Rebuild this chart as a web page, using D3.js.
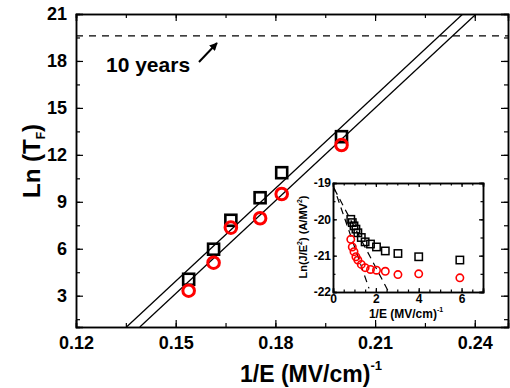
<!DOCTYPE html>
<meta charset="utf-8">
<style>
body { margin: 0; background: #fff; }
text { font-family: "Liberation Sans", Arial, sans-serif; font-weight: bold; fill: #000; }
.domain { stroke: #000; stroke-width: 1.5px; }
.tick line { stroke: #000; stroke-width: 1.2px; }
</style>
<body>
<svg id="chart" width="510" height="388"></svg>
<script src="https://d3js.org/d3.v7.min.js"></script>
<script>

// main plot: lifetime vs 1/E
const invE = [0.1539, 0.1614, 0.1666, 0.1754, 0.1819, 0.1999]
const lnTsq = [4.05, 5.97, 7.82, 9.26, 10.86, 13.16]
const lnTci = [3.32, 5.11, 7.35, 7.95, 9.50, 12.63]
const fitA = [[0.1352, 1], [0.2364, 21]]
const fitB = [[0.1392, 1], [0.2404, 21]]
const tenYears = 19.6
const xTicks = [0.12, 0.15, 0.18, 0.21, 0.24]
const yTicks = [3, 6, 9, 12, 15, 18, 21]

// inset: Ln(J/E^2) vs 1/E
const inX = [0.83, 0.90, 0.98, 1.07, 1.16, 1.32, 1.50, 1.75, 2.03, 2.44, 3.03, 4.00, 5.92]
const inSq = [-20.00, -20.09, -20.18, -20.27, -20.37, -20.50, -20.62, -20.68, -20.76, -20.87, -20.94, -21.03, -21.12]
const inCi = [-20.55, -20.76, -20.89, -21.03, -21.12, -21.24, -21.33, -21.38, -21.40, -21.43, -21.52, -21.50, -21.61]
const inFitA = [[0, -19.05], [1.68, -21.9]]
const inFitB = [[0.05, -19.15], [2.6, -22]]
const inXTicks = [0, 2, 4, 6]
const inYTicks = [-22, -21, -20, -19]

const svg = d3.select("#chart")
svg.append("rect").attr("width", 510).attr("height", 388).attr("fill", "#fff")
const defs = svg.append("defs")

const x = d3.scaleLinear().domain([0.12, 0.25]).range([76, 508])
const y = d3.scaleLinear().domain([1, 21]).range([327, 14])

const none = () => ""

function axes(g, xs, ys, xt, yt, mx, my, big, small, pad, fs, fx, fy) {
  const [x0, x1] = xs.range(), [y0, y1] = ys.range()
  const add = (ax, tr) => g.append("g").attr("transform", tr).call(ax)
  add(d3.axisBottom(xs).tickValues(mx).tickSize(-small).tickFormat(none), `translate(0,${y0})`)
  add(d3.axisTop(xs).tickValues(mx).tickSize(-small).tickFormat(none), `translate(0,${y1})`)
  add(d3.axisLeft(ys).tickValues(my).tickSize(-small).tickFormat(none), `translate(${x0},0)`)
  add(d3.axisRight(ys).tickValues(my).tickSize(-small).tickFormat(none), `translate(${x1},0)`)
  add(d3.axisBottom(xs).tickValues(xt).tickSize(-big).tickPadding(pad).tickFormat(fx), `translate(0,${y0})`)
  add(d3.axisTop(xs).tickValues(xt).tickSize(-big).tickFormat(none), `translate(0,${y1})`)
  add(d3.axisLeft(ys).tickValues(yt).tickSize(-big).tickPadding(pad).tickFormat(fy), `translate(${x0},0)`)
  add(d3.axisRight(ys).tickValues(yt).tickSize(-big).tickFormat(none), `translate(${x1},0)`)
  g.selectAll(".tick text").attr("font-size", fs)
    .attr("font-family", "'Liberation Sans', Arial, sans-serif").attr("font-weight", "bold")
}

defs.append("clipPath").attr("id", "clip")
  .append("rect").attr("x", 76).attr("y", 14).attr("width", 432).attr("height", 313)

const main = svg.append("g")
axes(main, x, y, xTicks, yTicks, d3.range(0.12, 0.2501, 0.015), d3.range(1.5, 21, 1.5),
  7, 4, 9, 18, d3.format(".2f"), d => String(d))

// 10 years line
main.append("line")
  .attr("x1", x(0.12)).attr("x2", x(0.25))
  .attr("y1", y(tenYears)).attr("y2", y(tenYears))
  .attr("stroke", "#000").attr("stroke-width", 1.2).attr("stroke-dasharray", "7,6")

main.append("text").attr("x", 106).attr("y", 72).attr("font-size", 21).text("10 years")

defs.append("marker").attr("id", "arr")
  .attr("viewBox", "0 0 10 10").attr("refX", 9).attr("refY", 5)
  .attr("markerWidth", 4).attr("markerHeight", 4).attr("orient", "auto")
  .append("path").attr("d", "M0,0L10,5L0,10z").attr("fill", "#000")
main.append("line").attr("x1", 199).attr("y1", 62).attr("x2", 217).attr("y2", 43)
  .attr("stroke", "#000").attr("stroke-width", 2).attr("marker-end", "url(#arr)")

const line = d3.line().x(d => x(d[0])).y(d => y(d[1]))
main.append("g").attr("clip-path", "url(#clip)").selectAll("path")
  .data([fitA, fitB]).join("path")
  .attr("d", line).attr("fill", "none").attr("stroke", "#000").attr("stroke-width", 1.3)

main.selectAll(".sq").data(invE).join("rect")
  .attr("x", d => x(d) - 5.5).attr("y", (d, i) => y(lnTsq[i]) - 5.5)
  .attr("width", 11).attr("height", 11)
  .attr("fill", "none").attr("stroke", "#000").attr("stroke-width", 2.6)

main.selectAll(".ci").data(invE).join("circle")
  .attr("cx", d => x(d)).attr("cy", (d, i) => y(lnTci[i])).attr("r", 5.8)
  .attr("fill", "none").attr("stroke", "#f00").attr("stroke-width", 3)

// axis titles
const xt = main.append("text").attr("x", 240).attr("y", 382).attr("font-size", 23)
xt.append("tspan").text("1/E (MV/cm)")
xt.append("tspan").attr("dy", -12).attr("font-size", 13).text("-1")

const yt = main.append("text").attr("transform", "translate(40,198) rotate(-90)").attr("font-size", 24)
yt.append("tspan").text("Ln (T")
yt.append("tspan").attr("dy", 5).attr("font-size", 12).text("F")
yt.append("tspan").attr("dy", -5).text(")")

// inset
const ix = d3.scaleLinear().domain([0, 7]).range([333, 483])
const iy = d3.scaleLinear().domain([-22, -19]).range([292, 183])
const inset = svg.append("g")
inset.append("rect").attr("x", 333).attr("y", 183).attr("width", 150).attr("height", 109).attr("fill", "#fff")
axes(inset, ix, iy, inXTicks, inYTicks, d3.range(0, 7.01, 0.5), d3.range(-22, -18.99, 0.5),
  4, 2.5, 2, 12, d => String(d), d => String(d))

defs.append("clipPath").attr("id", "iclip")
  .append("rect").attr("x", 333).attr("y", 183).attr("width", 150).attr("height", 109)
const iline = d3.line().x(d => ix(d[0])).y(d => iy(d[1]))
inset.append("g").attr("clip-path", "url(#iclip)").selectAll("path")
  .data([inFitA, inFitB]).join("path")
  .attr("d", iline).attr("fill", "none").attr("stroke", "#000")
  .attr("stroke-width", 1.2).attr("stroke-dasharray", "7,5")

inset.selectAll(".isq").data(inX).join("rect")
  .attr("x", d => ix(d) - 3.7).attr("y", (d, i) => iy(inSq[i]) - 3.7)
  .attr("width", 7.4).attr("height", 7.4)
  .attr("fill", "none").attr("stroke", "#000").attr("stroke-width", 1.5)
inset.selectAll(".ici").data(inX).join("circle")
  .attr("cx", d => ix(d)).attr("cy", (d, i) => iy(inCi[i])).attr("r", 3.7)
  .attr("fill", "none").attr("stroke", "#f00").attr("stroke-width", 1.6)

const ixt = inset.append("text").attr("x", 406).attr("y", 318).attr("text-anchor", "middle").attr("font-size", 12)
ixt.append("tspan").text("1/E (MV/cm)")
ixt.append("tspan").attr("dy", -6).attr("font-size", 7).text("-1")

const iyt = inset.append("text").attr("transform", "translate(307,237) rotate(-90)")
  .attr("text-anchor", "middle").attr("font-size", 11)
iyt.append("tspan").text("Ln(J/E")
iyt.append("tspan").attr("dy", -5).attr("font-size", 7).text("2")
iyt.append("tspan").attr("dy", 5).text(") (A/MV")
iyt.append("tspan").attr("dy", -5).attr("font-size", 7).text("2")
iyt.append("tspan").attr("dy", 5).text(")")

</script>
</body>
